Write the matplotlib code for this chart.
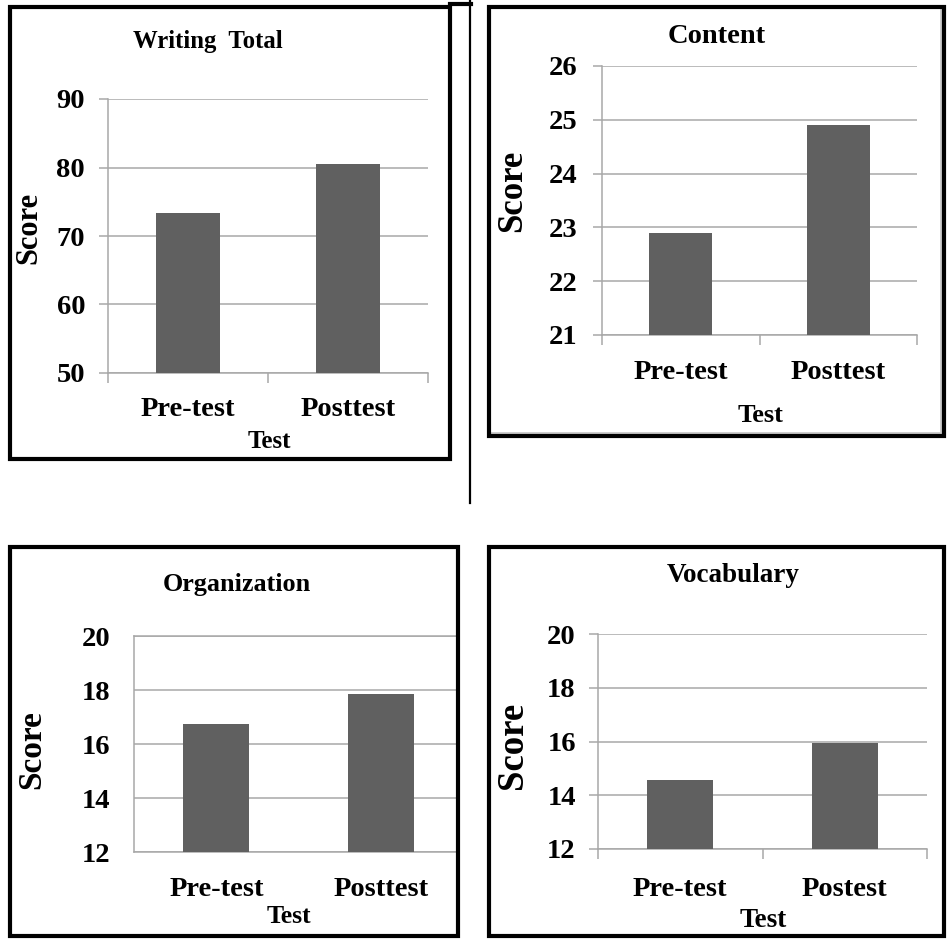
import matplotlib
matplotlib.use('Agg')
import matplotlib.pyplot as plt
from matplotlib.patches import Rectangle
from matplotlib.lines import Line2D

# Data
tests = ['Pre-test', 'Posttest']
tests_vocab = ['Pre-test', 'Postest']
writing_total = [73.4, 80.5]
content = [22.9, 24.9]
organization = [16.75, 17.85]
vocabulary = [14.55, 15.95]

writing_ticks = [50, 60, 70, 80, 90]
content_ticks = [21, 22, 23, 24, 25, 26]
org_ticks = [12, 14, 16, 18, 20]
vocab_ticks = [12, 14, 16, 18, 20]

W, H = 948, 940
BAR = '#606060'
GRID = '#a8a8a8'
FONT = 'Liberation Serif'
TICK_FS = 20.5

plt.rcParams['font.family'] = FONT
plt.rcParams['font.weight'] = 'bold'

fig = plt.figure(figsize=(W / 100, H / 100), dpi=100)


def px_rect(x0, y0, x1, y1):
    # pixel box (top-left origin) -> figure fraction [l, b, w, h]
    return [x0 / W, 1 - y1 / H, (x1 - x0) / W, (y1 - y0) / H]


def fx(x):
    return x / W


def fy(y):
    return 1 - y / H


def bar_panel(box, labels, values, yticks, ytick_len, ytick_pad, xpad,
              xminor=True, frame=False, xmax=None):
    ax = fig.add_axes(px_rect(*box))
    ax.bar(range(len(values)), values, width=0.4, color=BAR, zorder=3)
    ax.set_xlim(-0.5, len(values) - 0.5 if xmax is None else xmax)
    ax.set_ylim(yticks[0], yticks[-1])
    ax.set_yticks(yticks)
    ax.set_xticks(range(len(labels)))
    ax.set_xticklabels(labels, fontsize=TICK_FS, fontweight='bold')
    ax.set_yticklabels([str(t) for t in yticks], fontsize=TICK_FS, fontweight='bold')
    ax.yaxis.grid(True, color=GRID, linewidth=1.1)
    ax.set_axisbelow(True)
    ax.tick_params(axis='y', length=ytick_len, width=1.1, color=GRID, pad=ytick_pad)
    ax.tick_params(axis='x', which='major', length=0, pad=xpad)
    if xminor:
        ax.set_xticks([i - 0.5 for i in range(len(values) + 1)], minor=True)
        ax.tick_params(axis='x', which='minor', length=7, width=1.1, color=GRID)
    for side in ['left', 'bottom', 'top', 'right']:
        ax.spines[side].set_color(GRID)
        ax.spines[side].set_linewidth(1.1)
    ax.spines['right'].set_visible(False)
    if not frame:
        ax.spines['top'].set_visible(False)
    return ax


def frame_box(x0, y0, x1, y1, lw=3):
    fig.patches.append(Rectangle((fx(x0), fy(y1)), fx(x1) - fx(x0), fy(y0) - fy(y1),
                                 transform=fig.transFigure, fill=False,
                                 edgecolor='black', linewidth=lw, zorder=10))


# Writing Total
bar_panel((108, 99, 428, 373), tests, writing_total, writing_ticks, 6.5, 10, 17)
fig.text(fx(208), fy(48), 'Writing  Total', ha='center', va='baseline', fontsize=17.8, fontweight='bold')
fig.text(fx(269), fy(448), 'Test', ha='center', va='baseline', fontsize=18, fontweight='bold')
fig.text(fx(29), fy(228), 'Score', ha='center', va='center', rotation=90, fontsize=22, fontweight='bold')
frame_box(10, 7, 450, 459)
fig.lines.append(Line2D([fx(450), fx(471)], [fy(4), fy(4)], transform=fig.transFigure,
                        color='black', linewidth=3))
fig.lines.append(Line2D([fx(470), fx(470)], [fy(0), fy(503)], transform=fig.transFigure,
                        color='black', linewidth=1.6))

# Content
bar_panel((602, 66, 917, 335), tests, content, content_ticks, 6.5, 11, 18)
fig.text(fx(717), fy(43), 'Content', ha='center', va='baseline', fontsize=20.5, fontweight='bold')
fig.text(fx(760), fy(422), 'Test', ha='center', va='baseline', fontsize=19, fontweight='bold')
fig.text(fx(513), fy(191), 'Score', ha='center', va='center', rotation=90, fontsize=25, fontweight='bold')
fig.lines.append(Line2D([fx(491), fx(941), fx(941)], [fy(433), fy(433), fy(9)],
                        transform=fig.transFigure, color='#c8c8c8', linewidth=2))
frame_box(489, 7, 944, 436)

# Organization (plot area runs into the right border)
bar_panel((134, 636, 459, 852), tests, organization, org_ticks, 0, 17, 18,
          xminor=False, frame=True, xmax=1.47)
fig.text(fx(237), fy(591), 'Organization', ha='center', va='baseline', fontsize=18.8, fontweight='bold')
fig.text(fx(289), fy(923), 'Test', ha='center', va='baseline', fontsize=18.5, fontweight='bold')
fig.text(fx(32), fy(750), 'Score', ha='center', va='center', rotation=90, fontsize=24, fontweight='bold')
frame_box(10, 547, 458, 936)

# Vocabulary
bar_panel((598, 634, 927, 849), tests_vocab, vocabulary, vocab_ticks, 6.5, 9.5, 20)
fig.text(fx(733), fy(582), 'Vocabulary', ha='center', va='baseline', fontsize=19.5, fontweight='bold')
fig.text(fx(763), fy(927), 'Test', ha='center', va='baseline', fontsize=19.5, fontweight='bold')
fig.text(fx(513), fy(745), 'Score', ha='center', va='center', rotation=90, fontsize=26.5, fontweight='bold')
frame_box(489, 547, 944, 936)

fig.savefig('out.png', dpi=100, facecolor='white')
